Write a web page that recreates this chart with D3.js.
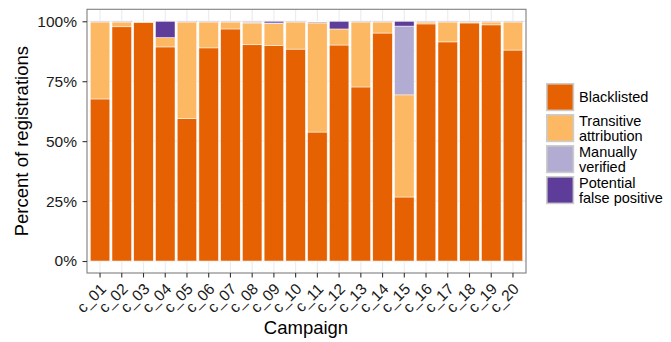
<!DOCTYPE html>
<html>
<head>
<meta charset="utf-8">
<script src="https://cdn.jsdelivr.net/npm/d3@7"></script>
<style>
  body { margin: 0; background: #fff; }
  text { font-family: "Liberation Sans", Arial, sans-serif; }
</style>
</head>
<body>
<svg width="671" height="342"></svg>
<script>
const campaigns = ["c_01","c_02","c_03","c_04","c_05","c_06","c_07","c_08","c_09","c_10",
  "c_11","c_12","c_13","c_14","c_15","c_16","c_17","c_18","c_19","c_20"]
const blacklisted = [67.6, 97.7, 99.4, 89.3, 59.4, 88.9, 96.8, 90.2, 89.8, 88.4, 53.8, 90.1, 72.6, 95.1, 26.7, 98.9, 91.4, 99.3, 98.5, 88.0]
const transitive = [32.1, 2.0, 0.4, 3.9, 40.3, 10.8, 2.9, 9.1, 9.2, 11.3, 45.5, 6.7, 27.1, 4.6, 42.6, 0.8, 8.3, 0.4, 1.2, 11.7]
const manual = [0, 0, 0, 0, 0, 0, 0, 0.4, 0.3, 0, 0.5, 0, 0, 0, 28.7, 0, 0, 0, 0, 0]
const falsePos = [0.3, 0.3, 0.2, 6.8, 0.3, 0.3, 0.3, 0.3, 0.7, 0.3, 0.2, 3.2, 0.3, 0.3, 2.0, 0.3, 0.3, 0.3, 0.3, 0.3]
const yTicks = [0, 25, 50, 75, 100]
const keys = ["blacklisted", "transitive", "manual", "falsePos"]
const legendLabels = [["Blacklisted"], ["Transitive", "attribution"], ["Manually", "verified"], ["Potential", "false positive"]]
const colors = ["#e66101", "#fdb863", "#b2abd2", "#5e3c99"]

const svg = d3.select("svg")
const panel = { left: 87, right: 526, top: 9.3, bottom: 273 }

const rows = campaigns.map((c, i) => ({
  campaign: c,
  blacklisted: blacklisted[i],
  transitive: transitive[i],
  manual: manual[i],
  falsePos: falsePos[i]
}))

const x = d3.scaleBand()
  .domain(campaigns)
  .range([panel.left + 21.73 * 0.6 - 21.73 * 0.5, panel.right - 21.73 * 0.6 + 21.73 * 0.5])
  .paddingInner(0.1)
  .paddingOuter(0.05)

const yPad = (panel.bottom - panel.top) * 0.05 / 1.1
const y = d3.scaleLinear()
  .domain([0, 100])
  .range([panel.bottom - yPad, panel.top + yPad])

const color = d3.scaleOrdinal().domain(keys).range(colors)

// gridlines
const grid = svg.append('g')
grid.selectAll('.minor')
  .data([12.5, 37.5, 62.5, 87.5])
  .enter().append('line')
  .attr('x1', panel.left).attr('x2', panel.right)
  .attr('y1', d => y(d)).attr('y2', d => y(d))
  .attr('stroke', '#f2f2f2').attr('stroke-width', 0.6)
grid.selectAll('.majorY')
  .data(yTicks)
  .enter().append('line')
  .attr('x1', panel.left).attr('x2', panel.right)
  .attr('y1', d => y(d)).attr('y2', d => y(d))
  .attr('stroke', '#ebebeb').attr('stroke-width', 1.1)
grid.selectAll('.majorX')
  .data(campaigns)
  .enter().append('line')
  .attr('x1', d => x(d) + x.bandwidth() / 2).attr('x2', d => x(d) + x.bandwidth() / 2)
  .attr('y1', panel.top).attr('y2', panel.bottom)
  .attr('stroke', '#ebebeb').attr('stroke-width', 1.1)

// stacked bars
const stack = d3.stack().keys(keys)
const series = stack(rows)

svg.append('g').selectAll('g')
  .data(series)
  .enter().append('g')
  .attr('fill', d => color(d.key))
  .selectAll('rect')
  .data(d => d.filter(p => p[1] - p[0] > 0))
  .enter().append('rect')
  .attr('x', d => x(d.data.campaign))
  .attr('width', x.bandwidth())
  .attr('y', d => y(d[1]))
  .attr('height', d => y(d[0]) - y(d[1]))
  .attr('stroke', 'white')
  .attr('stroke-width', 0.5)

// panel border
svg.append('rect')
  .attr('x', panel.left).attr('y', panel.top)
  .attr('width', panel.right - panel.left).attr('height', panel.bottom - panel.top)
  .attr('fill', 'none').attr('stroke', '#7f7f7f').attr('stroke-width', 1.1)

// y axis
const yAxis = svg.append('g')
  .attr('transform', `translate(${panel.left},0)`)
  .call(d3.axisLeft(y).tickValues(yTicks).tickFormat(d => d + '%').tickSize(4.5).tickPadding(5.5))
yAxis.select('.domain').remove()
yAxis.selectAll('line').attr('stroke', '#333').attr('stroke-width', 1.1)
yAxis.selectAll('text').attr('font-size', 15.5).attr('fill', '#1a1a1a')
  .attr('font-family', '"Liberation Sans", Arial, sans-serif')

// x axis
const xAxis = svg.append('g')
  .attr('transform', `translate(0,${panel.bottom})`)
  .call(d3.axisBottom(x).tickSize(4.5).tickPadding(0))
xAxis.select('.domain').remove()
xAxis.selectAll('line').attr('stroke', '#333').attr('stroke-width', 1.1)
xAxis.selectAll('text')
  .attr('font-size', 15.5).attr('fill', '#1a1a1a')
  .attr('font-family', '"Liberation Sans", Arial, sans-serif')
  .attr('text-anchor', 'end')
  .attr('dy', null)
  .attr('y', 0)
  .attr('transform', 'translate(7,17) rotate(-45)')

// axis titles
svg.append('text')
  .attr('x', 306).attr('y', 334)
  .attr('text-anchor', 'middle')
  .attr('font-size', 18.5)
  .text('Campaign')

svg.append('text')
  .attr('transform', `translate(28,${(panel.top + panel.bottom) / 2}) rotate(-90)`)
  .attr('text-anchor', 'middle')
  .attr('font-size', 18.5)
  .text('Percent of registrations')

// legend
const legend = svg.append('g').attr('transform', 'translate(546,83)')
const item = legend.selectAll('g')
  .data(keys)
  .enter().append('g')
  .attr('transform', (d, i) => `translate(0,${i * 31})`)

item.append('rect')
  .attr('x', 0.8).attr('y', 0.8)
  .attr('width', 26.6).attr('height', 26.6)
  .attr('fill', d => color(d))
  .attr('stroke', '#cccccc').attr('stroke-width', 1.6)

item.each(function(d, i) {
  const lines = legendLabels[i]
  const t = d3.select(this).append('text')
    .attr('x', 33)
    .attr('font-size', 14.5)
  lines.forEach((l, j) => {
    t.append('tspan')
      .attr('x', 33)
      .attr('y', 14 + 5 - (lines.length - 1) * 7.5 + j * 15)
      .text(l)
  })
})
</script>
</body>
</html>
